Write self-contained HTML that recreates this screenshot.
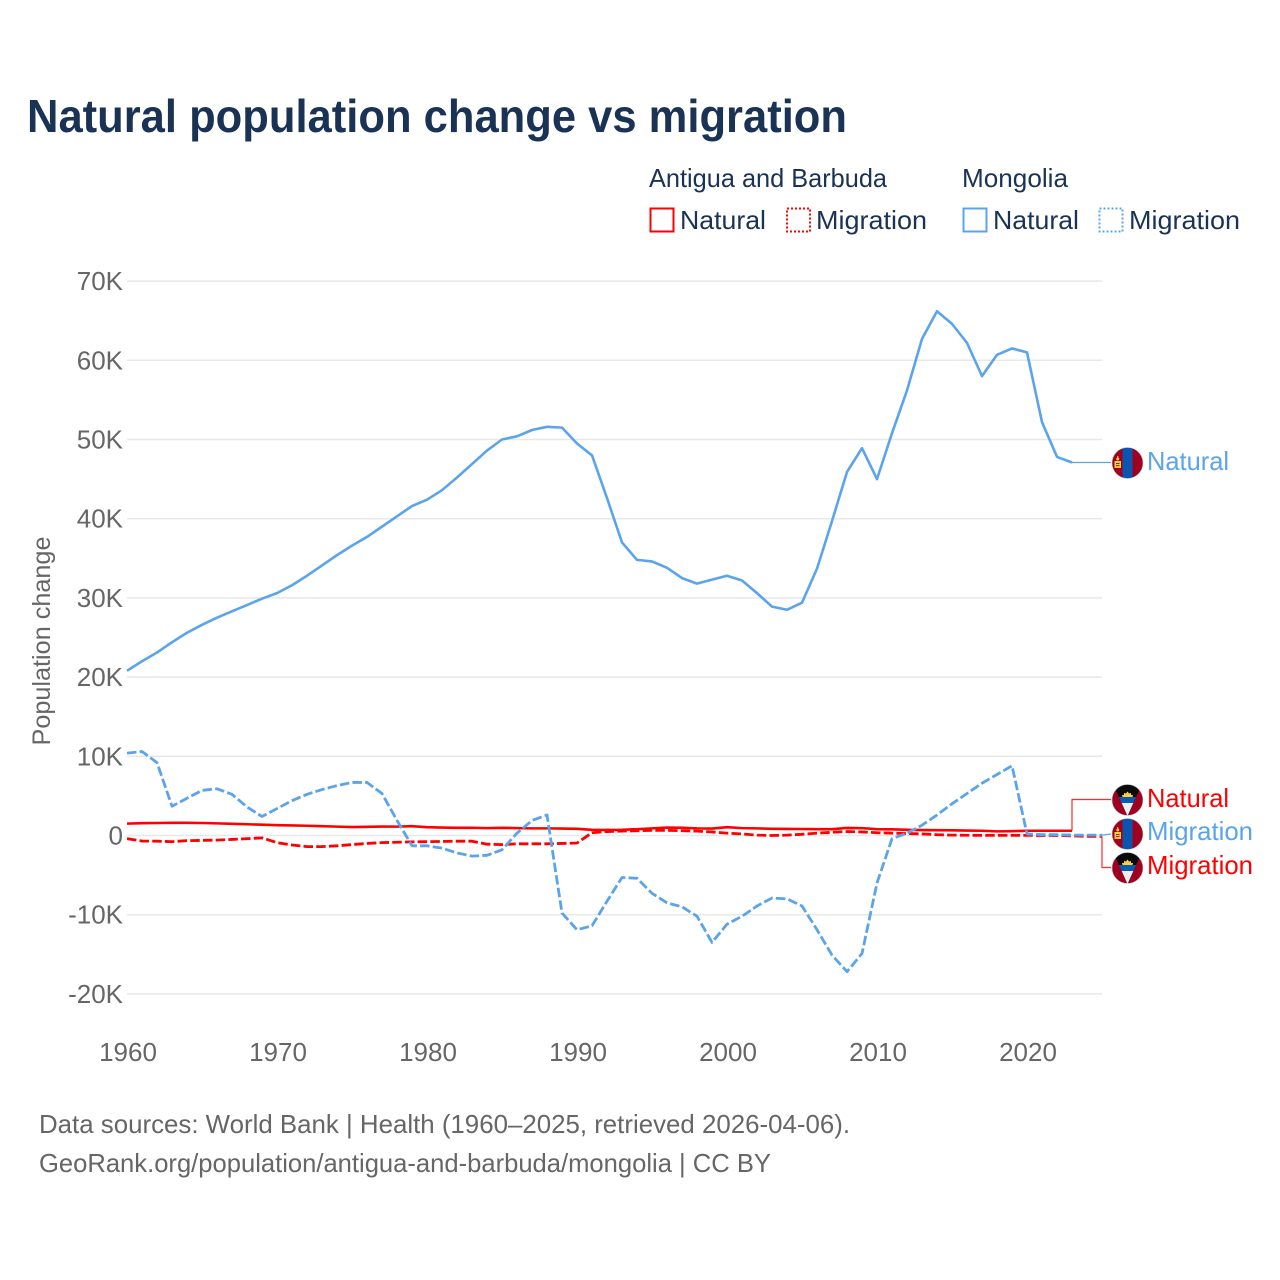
<!DOCTYPE html>
<html lang="en">
<head>
<meta charset="utf-8">
<title>Natural population change vs migration</title>
<style>
html,body{margin:0;padding:0;background:#fff;}
svg{display:block;}
text{font-family:"Liberation Sans",sans-serif;}
</style>
</head>
<body>
<svg id="chart" xmlns="http://www.w3.org/2000/svg" width="1280" height="1280" viewBox="0 0 1280 1280">
<defs>
<clipPath id="flag-clip"><circle cx="0" cy="0" r="15.5"/></clipPath>
<g id="flag-ag">
<g clip-path="url(#flag-clip)">
<rect x="-16" y="-16" width="32" height="32" fill="#a00020"/>
<polygon points="-14.5,-16 14.5,-16 0,16" fill="#0b0b0b"/>
<polygon points="-8.6,-3 8.6,-3 0,16" fill="#0a5bb5"/>
<polygon points="-5.8,3 5.8,3 0,16" fill="#eeeeee"/>
<path d="M-5,-3 L-5.5,-5 L-3.5,-5 L-3.5,-7 L-1.5,-6.5 L0,-8.5 L1.5,-6.5 L3.5,-7 L3.5,-5 L5.5,-5 L5,-3 Z" fill="#ffcf3a"/>
</g>
<circle cx="0" cy="0" r="15.5" fill="none" stroke="#c8c8c8" stroke-width="0.6"/>
</g>
<g id="flag-mn">
<g clip-path="url(#flag-clip)">
<rect x="-16" y="-16" width="32" height="32" fill="#a00020"/>
<rect x="-5" y="-16" width="10" height="32" fill="#0a55b0"/>
<rect x="-13" y="-2" width="6.5" height="7" fill="#ffcf3a"/>
<rect x="-11.5" y="0" width="3.5" height="0.9" fill="#a00020"/>
<rect x="-11.5" y="2.2" width="3.5" height="0.9" fill="#a00020"/>
<circle cx="-9.75" cy="-4" r="1.5" fill="#ffcf3a"/>
<rect x="-10.25" y="-7" width="1" height="2" fill="#ffcf3a"/>
</g>
<circle cx="0" cy="0" r="15.5" fill="none" stroke="#c8c8c8" stroke-width="0.6"/>
</g>
</defs>

<text x="27" y="132" font-size="46" font-weight="700" fill="#1a3355" textLength="820" lengthAdjust="spacingAndGlyphs">Natural population change vs migration</text>

<g fill="#1a3355" font-size="26">
<text x="649" y="187" textLength="238" lengthAdjust="spacingAndGlyphs">Antigua and Barbuda</text>
<text x="962" y="187" textLength="106" lengthAdjust="spacingAndGlyphs">Mongolia</text>
<rect x="650.5" y="208.5" width="23" height="23" fill="none" stroke="#ff0000" stroke-width="2"/>
<text x="680" y="229" textLength="86" lengthAdjust="spacingAndGlyphs">Natural</text>
<rect x="787" y="208.5" width="23" height="23" fill="none" stroke="#ff0000" stroke-width="2" stroke-dasharray="2 2"/>
<text x="816" y="229" textLength="111" lengthAdjust="spacingAndGlyphs">Migration</text>
<rect x="963.5" y="208.5" width="23" height="23" fill="none" stroke="#5ba4ec" stroke-width="2"/>
<text x="993" y="229" textLength="86" lengthAdjust="spacingAndGlyphs">Natural</text>
<rect x="1099.5" y="208.5" width="23" height="23" fill="none" stroke="#5ba4ec" stroke-width="2" stroke-dasharray="2 2"/>
<text x="1129" y="229" textLength="111" lengthAdjust="spacingAndGlyphs">Migration</text>
</g>

<text transform="translate(50,641) rotate(-90)" text-anchor="middle" font-size="25" fill="#666666" textLength="209" lengthAdjust="spacingAndGlyphs">Population change</text>

<g id="grid"></g>
<g id="y-ticks"></g>
<g id="x-ticks"></g>
<g id="series"></g>

<g font-size="26">
<use href="#flag-mn" x="1127.5" y="463"/>
<text x="1147" y="470" fill="#5ba4ec" textLength="82" lengthAdjust="spacingAndGlyphs">Natural</text>
<use href="#flag-ag" x="1127.5" y="800"/>
<text x="1147" y="807" fill="#ff0000" textLength="82" lengthAdjust="spacingAndGlyphs">Natural</text>
<use href="#flag-mn" x="1127.5" y="834"/>
<text x="1147" y="840" fill="#5ba4ec" textLength="106" lengthAdjust="spacingAndGlyphs">Migration</text>
<use href="#flag-ag" x="1127.5" y="868"/>
<text x="1147" y="874" fill="#ff0000" textLength="106" lengthAdjust="spacingAndGlyphs">Migration</text>
</g>

<g font-size="26" fill="#666666">
<text x="39" y="1133" textLength="811" lengthAdjust="spacingAndGlyphs">Data sources: World Bank | Health (1960–2025, retrieved 2026-04-06).</text>
<text x="39" y="1172" textLength="732" lengthAdjust="spacingAndGlyphs">GeoRank.org/population/antigua-and-barbuda/mongolia | CC BY</text>
</g>
</svg>

<script>
const startYear = 1960;
const yTickValues = [70, 60, 50, 40, 30, 20, 10, 0, -10, -20];
const yTickLabels = ["70K", "60K", "50K", "40K", "30K", "20K", "10K", "0", "-10K", "-20K"];
const xTickValues = [1960, 1970, 1980, 1990, 2000, 2010, 2020];
const xTickLabels = ["1960", "1970", "1980", "1990", "2000", "2010", "2020"];

const antiguaNatural = [1.5,1.55,1.58,1.6,1.6,1.58,1.53,1.48,1.42,1.36,1.3,1.27,1.23,1.18,1.12,1.07,1.1,1.13,1.12,1.17,1.05,1.0,0.97,0.98,0.93,0.97,0.93,0.9,0.9,0.88,0.85,0.72,0.7,0.72,0.8,0.9,1.0,0.97,0.9,0.88,1.05,0.93,0.9,0.85,0.83,0.82,0.8,0.8,0.95,0.93,0.8,0.78,0.72,0.68,0.67,0.65,0.62,0.6,0.52,0.55,0.6,0.6,0.6,0.6];
const antiguaMigration = [-0.4,-0.7,-0.72,-0.78,-0.65,-0.62,-0.58,-0.5,-0.4,-0.3,-0.9,-1.2,-1.4,-1.4,-1.3,-1.15,-1.0,-0.9,-0.85,-0.8,-0.78,-0.75,-0.72,-0.72,-1.1,-1.15,-1.05,-1.05,-1.05,-1.0,-0.95,0.35,0.5,0.55,0.6,0.65,0.65,0.6,0.55,0.45,0.3,0.2,0.05,0.0,0.05,0.15,0.3,0.4,0.5,0.45,0.35,0.3,0.25,0.2,0.1,0.05,0.03,0.02,0.02,0.02,0.02,0,0,-0.05,-0.1,-0.1];
const mongoliaNatural = [20.8,22.0,23.1,24.4,25.6,26.6,27.5,28.3,29.1,29.9,30.6,31.6,32.8,34.1,35.4,36.6,37.7,39.0,40.3,41.6,42.4,43.6,45.2,46.9,48.6,50.0,50.4,51.2,51.6,51.5,49.5,48.0,42.6,37.0,34.8,34.6,33.8,32.5,31.8,32.3,32.8,32.2,30.6,28.9,28.5,29.4,33.7,39.7,45.9,48.9,45.0,50.8,56.2,62.7,66.2,64.6,62.2,58.0,60.7,61.5,61.0,52.2,47.8,47.1];
const mongoliaMigration = [10.4,10.6,9.2,3.7,4.7,5.7,5.9,5.2,3.6,2.4,3.4,4.4,5.2,5.8,6.3,6.7,6.7,5.3,1.9,-1.3,-1.3,-1.6,-2.2,-2.6,-2.5,-1.8,0.3,1.9,2.6,-9.8,-11.9,-11.4,-8.3,-5.3,-5.4,-7.3,-8.5,-9.0,-10.2,-13.5,-11.2,-10.2,-8.9,-7.9,-8.0,-8.9,-11.9,-15.1,-17.2,-14.9,-6.0,-0.4,0.3,1.3,2.6,4.0,5.3,6.6,7.7,8.8,0.2,0.1,0.1,0.05,0.05,0.05];

const NS = "http://www.w3.org/2000/svg";
function xScale(year) { return 127 + (year - 1960) * 15; }
function yScale(k) { return 835.5 - k * 7.92; }
function linePoints(values) {
  return values.map(function (v, i) {
    return xScale(startYear + i).toFixed(2) + "," + yScale(v).toFixed(2);
  }).join(" ");
}

const grid = document.getElementById("grid");
const yTicks = document.getElementById("y-ticks");
yTickValues.forEach(function (v, i) {
  const g = document.createElementNS(NS, "line");
  
  
  g.setAttribute("x1", 127);
  g.setAttribute("x2", 1102);
  g.setAttribute("y1", yScale(v));
  g.setAttribute("y2", yScale(v));
  g.setAttribute("stroke", "#e8e8e8");
  g.setAttribute("stroke-width", "1.5");
  grid.appendChild(g);
  const t = document.createElementNS(NS, "text");
  
  
  t.setAttribute("x", 123);
  t.setAttribute("y", yScale(v) + 9);
  t.setAttribute("text-anchor", "end");
  t.setAttribute("font-size", "26");
  t.setAttribute("fill", "#666666");
  t.textContent = yTickLabels[i];
  yTicks.appendChild(t);
});

const xTicks = document.getElementById("x-ticks");
xTickValues.forEach(function (y, i) {
  const t = document.createElementNS(NS, "text");
  
  
  t.setAttribute("x", xScale(y) + 1);
  t.setAttribute("y", 1061);
  t.setAttribute("text-anchor", "middle");
  t.setAttribute("font-size", "26");
  t.setAttribute("fill", "#666666");
  t.textContent = xTickLabels[i];
  xTicks.appendChild(t);
});

const seriesGroup = document.getElementById("series");

const c1 = document.createElementNS(NS, "polyline");


c1.setAttribute("points", xScale(2023) + "," + yScale(mongoliaNatural[mongoliaNatural.length - 1]) + " 1111," + yScale(mongoliaNatural[mongoliaNatural.length - 1]));
c1.setAttribute("fill", "none");
c1.setAttribute("stroke", "#5ba4ec");
c1.setAttribute("stroke-width", "1.2");
seriesGroup.appendChild(c1);

const c2 = document.createElementNS(NS, "polyline");


c2.setAttribute("points", xScale(2023) + "," + yScale(antiguaNatural[antiguaNatural.length - 1]) + " " + xScale(2023) + ",799.5 1111,799.5");
c2.setAttribute("fill", "none");
c2.setAttribute("stroke", "#ff2a2a");
c2.setAttribute("stroke-width", "1.2");
seriesGroup.appendChild(c2);

const c3 = document.createElementNS(NS, "polyline");


c3.setAttribute("points", xScale(2025) + "," + yScale(antiguaMigration[antiguaMigration.length - 1]) + " " + xScale(2025) + ",867.5 1111,867.5");
c3.setAttribute("fill", "none");
c3.setAttribute("stroke", "#ff2a2a");
c3.setAttribute("stroke-width", "1.2");
seriesGroup.appendChild(c3);

const c4 = document.createElementNS(NS, "polyline");


c4.setAttribute("points", xScale(2025) + "," + yScale(mongoliaMigration[mongoliaMigration.length - 1]) + " 1111,834");
c4.setAttribute("fill", "none");
c4.setAttribute("stroke", "#5ba4ec");
c4.setAttribute("stroke-width", "1.2");
seriesGroup.appendChild(c4);

const lineNat1 = document.createElementNS(NS, "polyline");


lineNat1.setAttribute("points", linePoints(antiguaNatural));
lineNat1.setAttribute("fill", "none");
lineNat1.setAttribute("stroke", "#ff0000");
lineNat1.setAttribute("stroke-width", "2.6");
lineNat1.setAttribute("stroke-linejoin", "round");
seriesGroup.appendChild(lineNat1);

const lineMig1 = document.createElementNS(NS, "polyline");


lineMig1.setAttribute("points", linePoints(antiguaMigration));
lineMig1.setAttribute("fill", "none");
lineMig1.setAttribute("stroke", "#ff0000");
lineMig1.setAttribute("stroke-width", "2.8");
lineMig1.setAttribute("stroke-dasharray", "9.5 3.2");
lineMig1.setAttribute("stroke-linejoin", "round");
seriesGroup.appendChild(lineMig1);

const lineNat2 = document.createElementNS(NS, "polyline");


lineNat2.setAttribute("points", linePoints(mongoliaNatural));
lineNat2.setAttribute("fill", "none");
lineNat2.setAttribute("stroke", "#5ba4ec");
lineNat2.setAttribute("stroke-width", "2.6");
lineNat2.setAttribute("stroke-linejoin", "round");
seriesGroup.appendChild(lineNat2);

const lineMig2 = document.createElementNS(NS, "polyline");


lineMig2.setAttribute("points", linePoints(mongoliaMigration));
lineMig2.setAttribute("fill", "none");
lineMig2.setAttribute("stroke", "#5ba4ec");
lineMig2.setAttribute("stroke-width", "2.8");
lineMig2.setAttribute("stroke-dasharray", "9.5 3.2");
lineMig2.setAttribute("stroke-linejoin", "round");
seriesGroup.appendChild(lineMig2);
</script>
</body>
</html>
